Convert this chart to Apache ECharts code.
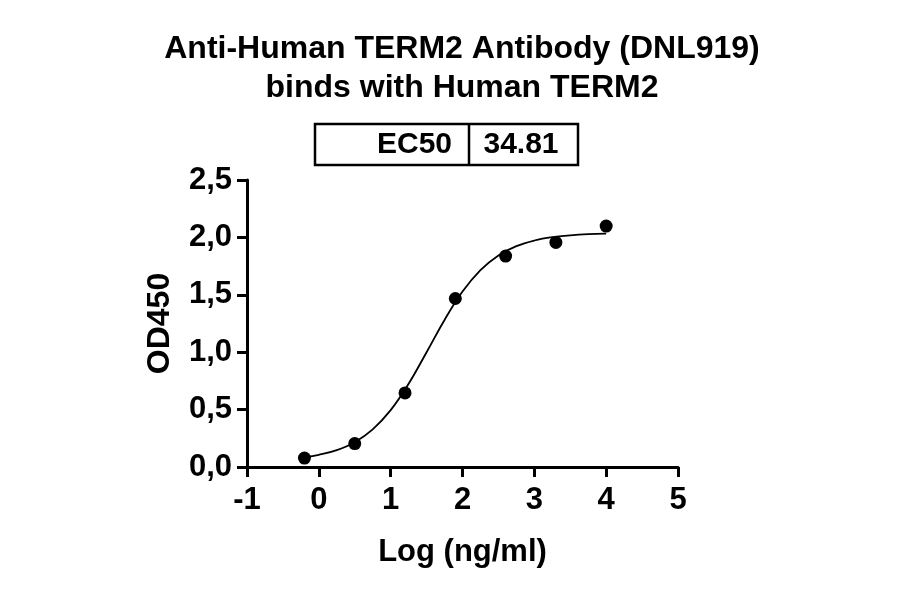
<!DOCTYPE html>
<html>
<head>
<meta charset="utf-8">
<script src="https://cdn.jsdelivr.net/npm/echarts@6/dist/echarts.min.js"></script>
<style>
  html, body { margin: 0; padding: 0; background: #fff; }
  #main { width: 900px; height: 594px; }
</style>
</head>
<body>
<div id="main"></div>
<script>
// measured points: log concentration vs OD450
var logConc = [-0.2, 0.5, 1.2, 1.9, 2.6, 3.3, 4.0];
var od450 = [0.078, 0.204, 0.645, 1.468, 1.837, 1.956, 2.099];

// fitted curve
var curveX = [-0.2, 0, 0.25, 0.5, 0.75, 1.0, 1.25, 1.5, 1.75, 2.0, 2.25, 2.5, 2.75, 3.0, 3.25, 3.5, 3.75, 4.0];
var curveY = [0.085, 0.106, 0.147, 0.216, 0.328, 0.495, 0.725, 1.0, 1.281, 1.528, 1.715, 1.843, 1.924, 1.973, 2.002, 2.018, 2.028, 2.033];

var xTicks = [-1, 0, 1, 2, 3, 4, 5];
var yTicks = ['0,0', '0,5', '1,0', '1,5', '2,0', '2,5'];

var ec50Label = 'EC50';
var ec50Value = '34.81';

var FONT = '"Liberation Sans", Arial, sans-serif';

var myChart = echarts.init(document.getElementById('main'));

var points = logConc.map(function (x, i) { return [x, od450[i]]; });
var curve = curveX.map(function (x, i) { return [x, curveY[i]]; });

var option = {
    animation: false,
    backgroundColor: '#fff',
    grid: {
        left: 247,
        right: 222,
        top: 180,
        bottom: 127
    },
    graphic: [
        {
            type: 'text', x: 462, y: 49,
            style: {
                text: 'Anti-Human TERM2 Antibody (DNL919)',
                font: 'bold 32px ' + FONT,
                fill: '#000', align: 'center', verticalAlign: 'middle'
            }
        },
        {
            type: 'text', x: 462, y: 88,
            style: {
                text: 'binds with Human TERM2',
                font: 'bold 32px ' + FONT,
                fill: '#000', align: 'center', verticalAlign: 'middle'
            }
        },
        // EC50 table
        {
            type: 'rect',
            shape: { x: 315, y: 124, width: 263, height: 41 },
            style: { fill: 'none', stroke: '#000', lineWidth: 2.5 }
        },
        {
            type: 'line',
            shape: { x1: 469, y1: 124, x2: 469, y2: 165 },
            style: { stroke: '#000', lineWidth: 2.5 }
        },
        {
            type: 'text', x: 452, y: 145,
            style: {
                text: ec50Label,
                font: 'bold 30px ' + FONT,
                fill: '#000', align: 'right', verticalAlign: 'middle'
            }
        },
        {
            type: 'text', x: 521, y: 145,
            style: {
                text: ec50Value,
                font: 'bold 30px ' + FONT,
                fill: '#000', align: 'center', verticalAlign: 'middle'
            }
        }
    ],
    xAxis: {
        type: 'value',
        min: xTicks[0],
        max: xTicks[xTicks.length - 1],
        interval: 1,
        name: 'Log (ng/ml)',
        nameLocation: 'middle',
        nameGap: 70,
        nameTextStyle: { fontFamily: FONT, fontWeight: 'bold', fontSize: 31, color: '#000' },
        axisLine: { onZero: false, lineStyle: { color: '#000', width: 3 } },
        axisTick: { length: 10, lineStyle: { color: '#000', width: 3 } },
        axisLabel: {
            margin: 18,
            fontFamily: FONT, fontWeight: 'bold', fontSize: 31, color: '#000',
            formatter: function (v) { return String(v); }
        },
        splitLine: { show: false }
    },
    yAxis: {
        type: 'value',
        min: 0,
        max: 2.5,
        interval: 0.5,
        name: 'OD450',
        nameLocation: 'middle',
        nameGap: 71,
        nameTextStyle: { fontFamily: FONT, fontWeight: 'bold', fontSize: 32, color: '#000' },
        axisLine: { show: true, onZero: false, lineStyle: { color: '#000', width: 3 } },
        axisTick: { show: true, length: 10, lineStyle: { color: '#000', width: 3 } },
        axisLabel: {
            margin: 15,
            fontFamily: FONT, fontWeight: 'bold', fontSize: 31, color: '#000',
            formatter: function (v, i) { return yTicks[i]; }
        },
        splitLine: { show: false }
    },
    series: [
        {
            type: 'line',
            data: curve,
            smooth: 0.4,
            showSymbol: false,
            lineStyle: { color: '#000', width: 1.8 },
            silent: true,
            z: 2
        },
        {
            type: 'scatter',
            data: points,
            symbol: 'circle',
            symbolSize: 13,
            itemStyle: { color: '#000', opacity: 1 },
            z: 3
        }
    ]
};

myChart.setOption(option);
</script>
</body>
</html>
